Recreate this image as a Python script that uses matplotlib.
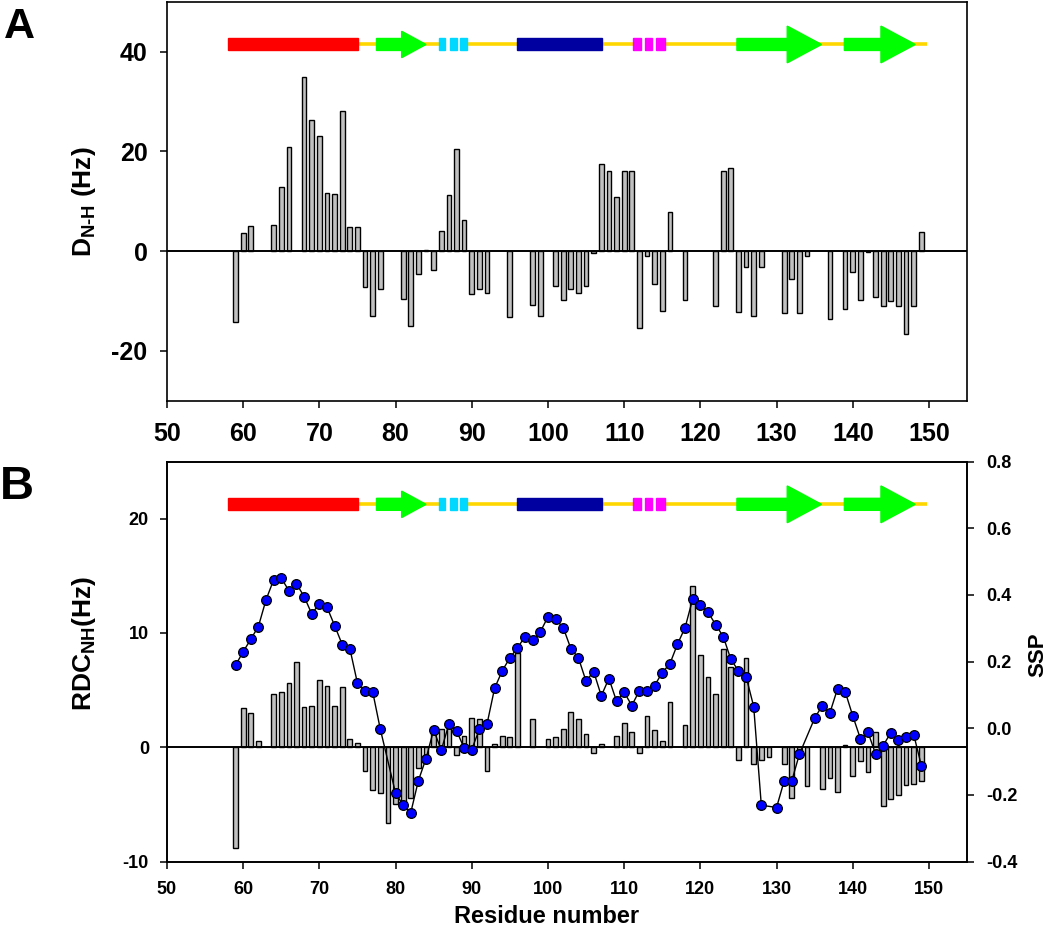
import numpy as np
import matplotlib
matplotlib.use('Agg')
import matplotlib.pyplot as plt
from matplotlib.patches import Rectangle, Polygon

plt.rcParams['font.family'] = ['Liberation Sans', 'DejaVu Sans']
plt.rcParams['font.weight'] = 'bold'
plt.rcParams['axes.unicode_minus'] = False
plt.rcParams['mathtext.fontset'] = 'custom'
plt.rcParams['mathtext.rm'] = 'Liberation Sans:bold'
plt.rcParams['mathtext.bf'] = 'Liberation Sans:bold'
plt.rcParams['mathtext.it'] = 'Liberation Sans:bold'

# [A] D N-H RDC
res_a = [59, 60, 61, 64, 65, 66, 68, 69, 70, 71, 72, 73, 74, 75, 76, 77, 78,
         81, 82, 83, 84, 85, 86, 87, 88, 89, 90, 91, 92, 95, 98, 99, 101, 102,
         103, 104, 105, 106, 107, 108, 109, 110, 111, 112, 113, 114, 115, 116,
         118, 122, 123, 124, 125, 126, 127, 128, 131, 132, 133, 134, 137, 139,
         140, 141, 142, 143, 144, 145, 146, 147, 148, 149]
rdc_a = [-14.3, 3.7, 5.0, 5.2, 12.8, 20.9, 34.9, 26.3, 23.1, 11.7, 11.5, 28.1,
         4.8, 4.8, -7.1, -13.0, -7.5, -9.6, -15.1, -4.6, 0.3, -3.7, 4.1, 11.2,
         20.5, 6.3, -8.5, -7.6, -8.4, -13.3, -10.9, -13.1, -6.9, -9.8, -7.6,
         -8.4, -6.9, -0.3, 17.5, 16.1, 10.9, 16.1, 16.1, -15.4, -0.9, -6.6,
         -12.1, 7.9, -9.7, -11.1, 16.1, 16.7, -12.3, -3.1, -13.1, -3.1, -12.5,
         -5.5, -12.4, -0.9, -13.6, -11.6, -4.1, -9.8, -0.2, -9.2, -11.0, -10.1,
         -11.1, -16.7, -11.0, 3.9]

# [B] RDC NH + SSP
res_b = [59, 60, 61, 62, 64, 65, 66, 67, 68, 69, 70, 71, 72, 73, 74, 75, 76,
         77, 78, 79, 80, 81, 82, 83, 84, 85, 86, 87, 88, 89, 90, 91, 92, 93, 94,
         95, 96, 98, 100, 101, 102, 103, 104, 105, 106, 107, 109, 110, 111, 112,
         113, 114, 115, 116, 118, 119, 120, 121, 122, 123, 124, 125, 126, 127,
         128, 129, 131, 132, 133, 134, 136, 137, 138, 139, 140, 141, 142, 143,
         144, 145, 146, 147, 148, 149]
rdc_b = [-8.86, 3.39, 2.98, 0.58, 4.64, 4.84, 5.63, 7.5, 3.53, 3.65, 5.92, 5.4,
         3.65, 5.31, 0.73, 0.35, -2.1, -3.7, -4.0, -6.6, -5.0, -4.9, -4.4, -1.8,
         -0.7, 1.5, 1.6, 1.8, -0.7, 1.0, 2.57, 2.5, -2.1, 0.26, 0.97, 0.9, 8.28,
         2.5, 0.76, 0.9, 1.63, 3.12, 2.45, 1.17, -0.5, 0.32, 0.99, 2.1, 1.31,
         -0.5, 2.71, 1.52, 0.53, 3.97, 1.93, 14.09, 8.08, 6.13, 4.64, 8.58, 7.03,
         -1.16, 7.82, -1.43, -1.08, -0.87, -1.43, -4.46, -0.8, -3.35, -3.67,
         -2.68, -3.93, 0.2, -2.48, -1.22, -2.21, 1.37, -5.1, -4.55, -4.17, -3.3,
         -3.21, -2.94]

res_ssp = [59, 60, 61, 62, 63, 64, 65, 66, 67, 68, 69, 70, 71, 72, 73, 74, 75,
           76, 77, 78, 80, 81, 82, 83, 84, 85, 86, 87, 88, 89, 90, 91, 92, 93,
           94, 95, 96, 97, 98, 99, 100, 101, 102, 103, 104, 105, 106, 107, 108,
           109, 110, 111, 112, 113, 114, 115, 116, 117, 118, 119, 120, 121, 122,
           123, 124, 125, 126, 127, 128, 130, 131, 132, 133, 135, 136, 137, 138,
           139, 140, 141, 142, 143, 144, 145, 146, 147, 148, 149]
ssp = [0.189, 0.229, 0.267, 0.305, 0.385, 0.445, 0.450, 0.413, 0.433, 0.395,
       0.343, 0.373, 0.363, 0.308, 0.251, 0.239, 0.135, 0.113, 0.109, -0.003,
       -0.195, -0.231, -0.253, -0.157, -0.091, -0.005, -0.066, 0.012, -0.007,
       -0.060, -0.064, -0.003, 0.012, 0.120, 0.172, 0.211, 0.241, 0.275, 0.264,
       0.289, 0.334, 0.327, 0.302, 0.239, 0.211, 0.141, 0.170, 0.097, 0.149,
       0.081, 0.108, 0.068, 0.112, 0.112, 0.128, 0.167, 0.193, 0.252, 0.302,
       0.388, 0.371, 0.348, 0.311, 0.275, 0.207, 0.172, 0.155, 0.065, -0.231,
       -0.238, -0.158, -0.158, -0.078, 0.030, 0.068, 0.046, 0.118, 0.110, 0.037,
       -0.031, -0.012, -0.078, -0.052, -0.013, -0.036, -0.027, -0.019, -0.112]

# 2차 구조 (residue 범위)
helix_red = [(58.0, 75.1)]
helix_blue = [(95.9, 107.1)]
strands = [(77.5, 80.8, 84.0), (124.8, 131.4, 135.9), (138.9, 143.7, 148.2)]
turns_cyan = [(85.7, 86.5), (87.1, 88.0), (88.5, 89.4)]
turns_magenta = [(111.2, 112.2), (112.7, 113.7), (114.2, 115.3)]
coil = [(75.0, 85.7), (89.4, 111.2), (115.3, 149.7)]


def draw_topology(ax):
    tr = ax.get_xaxis_transform()
    yc = 0.893
    hb = 0.015
    for x0, x1 in coil:
        ax.plot([x0, x1], [yc, yc], color='#FFD700', lw=2.6, transform=tr,
                solid_capstyle='butt', zorder=3)
    for x0, x1 in helix_red:
        ax.add_patch(Rectangle((x0, yc - hb), x1 - x0, 2 * hb, transform=tr,
                               color='#FF0000', zorder=4))
    for x0, x1 in helix_blue:
        ax.add_patch(Rectangle((x0, yc - hb), x1 - x0, 2 * hb, transform=tr,
                               color='#0000A0', zorder=4))
    for x0, x1 in turns_cyan:
        ax.add_patch(Rectangle((x0, yc - hb), x1 - x0, 2 * hb, transform=tr,
                               color='#00D8FF', zorder=4))
    for x0, x1 in turns_magenta:
        ax.add_patch(Rectangle((x0, yc - hb), x1 - x0, 2 * hb, transform=tr,
                               color='#FF00FF', zorder=4))
    for i, (x0, xh, x1) in enumerate(strands):
        hh = 0.033 if i == 0 else 0.046
        pts = [(x0, yc - hb), (xh, yc - hb), (xh, yc - hh), (x1, yc),
               (xh, yc + hh), (xh, yc + hb), (x0, yc + hb)]
        ax.add_patch(Polygon(pts, closed=True, transform=tr,
                             color='#00FF00', zorder=4))


def bold_ticks(ax):
    for lab in ax.get_xticklabels() + ax.get_yticklabels():
        lab.set_fontweight('bold')


def style_axis(ax, size):
    for s in ax.spines.values():
        s.set_linewidth(1.2)
    ax.tick_params(direction='out', length=5, width=1.1, labelsize=size)
    ax.set_xlim(50, 155)
    ax.set_xticks(np.arange(50, 151, 10))


fig = plt.figure(figsize=(10.5, 9.35), dpi=100)
ax1 = fig.add_axes([0.159, 0.5714, 0.762, 0.4267])
ax2 = fig.add_axes([0.159, 0.0786, 0.762, 0.4278])

# 패널 A
ax1.bar(res_a, rdc_a, width=0.62, color='#C0C0C0', edgecolor='black',
        linewidth=1.0, zorder=2)
ax1.axhline(0, color='black', lw=1.4, zorder=3)
ax1.set_ylim(-30, 50)
ax1.set_yticks([-20, 0, 20, 40])
style_axis(ax1, 18)
ax1.tick_params(axis='x', pad=10)
ax1.tick_params(axis='y', pad=9)
ax1.set_ylabel(r'$\mathrm{D_{N\text{-}H}}$ (Hz)', fontsize=19, fontweight='bold')
ax1.yaxis.set_label_coords(-0.086, 0.5)
draw_topology(ax1)
bold_ticks(ax1)

# 패널 B
ax2.bar(res_b, rdc_b, width=0.62, color='#C0C0C0', edgecolor='black',
        linewidth=1.0, zorder=2)
ax2.axhline(0, color='black', lw=1.4, zorder=3)
ax2.set_ylim(-10, 25)
ax2.set_yticks([-10, 0, 10, 20])
style_axis(ax2, 13)
ax2.tick_params(axis='x', pad=9)
ax2.tick_params(axis='y', pad=8)
ax2.set_ylabel(r'$\mathrm{RDC_{NH}}$(Hz)', fontsize=19, fontweight='bold')
ax2.yaxis.set_label_coords(-0.086, 0.545)
ax2.set_xlabel('Residue number', fontsize=17, fontweight='bold')
ax2.xaxis.set_label_coords(0.475, -0.109)
draw_topology(ax2)
bold_ticks(ax2)

ax3 = ax2.twinx()
ax3.plot(res_ssp, ssp, color='black', lw=1.0, marker='o', markersize=7,
         markerfacecolor='#0000FF', markeredgecolor='black',
         markeredgewidth=0.9, zorder=5)
ax3.set_ylim(-0.4, 0.8)
ax3.set_yticks(np.arange(-0.4, 0.81, 0.2))
ax3.set_yticklabels(['%.1f' % v for v in np.arange(-0.4, 0.81, 0.2)],
                    fontweight='bold')
ax3.tick_params(direction='out', length=5, width=1.1, labelsize=13, pad=9)
for s in ax3.spines.values():
    s.set_linewidth(1.2)
ax3.set_ylabel('SSP', fontsize=16, fontweight='bold', rotation=90,
               va='center', ha='center')
ax3.yaxis.set_label_coords(1.089, 0.516)

fig.text(0.004, 0.993, 'A', fontsize=31, fontweight='bold', va='top', ha='left')
fig.text(0.0, 0.503, 'B', fontsize=34, fontweight='bold', va='top', ha='left')

fig.savefig('out.png', dpi=100)
